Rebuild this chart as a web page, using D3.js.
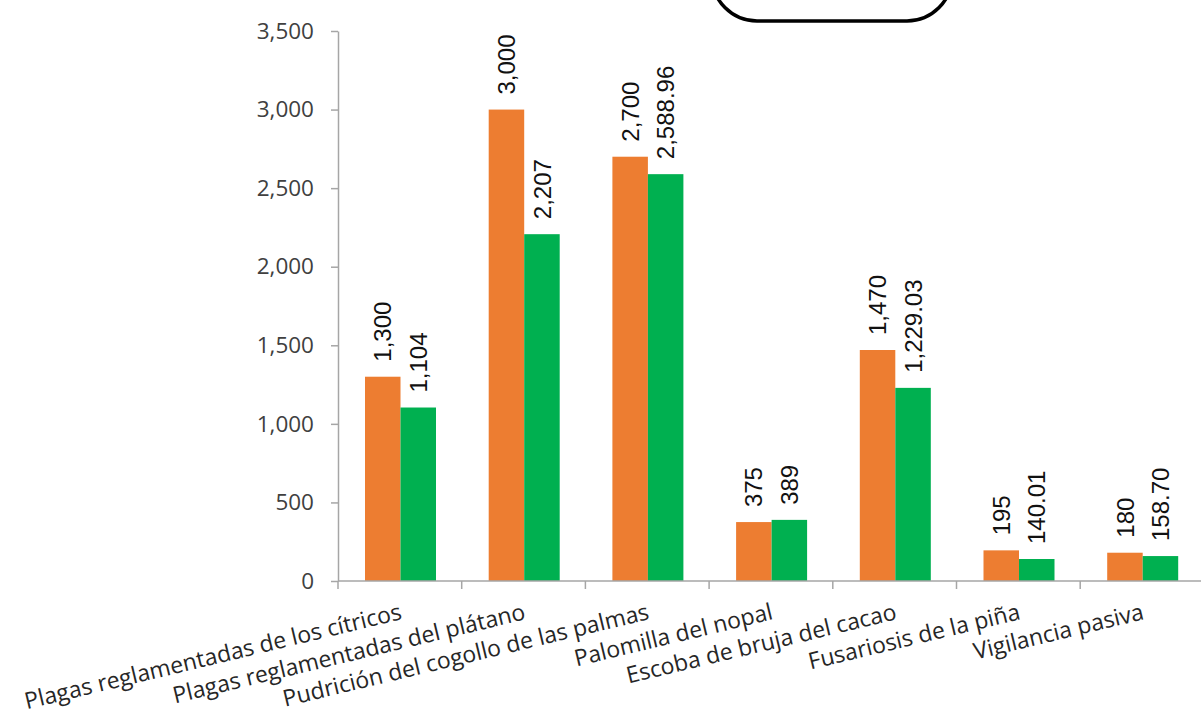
<!DOCTYPE html>
<html>
<head>
<meta charset="utf-8">
<script src="https://cdn.jsdelivr.net/npm/d3@7"></script>
<style>
  body { margin: 0; background: #fff; }
  svg { display: block; }
</style>
</head>
<body>
<div id="chart"></div>
<script>
const width = 1201;
const height = 719;

const categories = [
    "Plagas reglamentadas de los cítricos",
    "Plagas reglamentadas del plátano",
    "Pudrición del cogollo de las palmas",
    "Palomilla del nopal",
    "Escoba de bruja del cacao",
    "Fusariosis de la piña",
    "Vigilancia pasiva"
];
const orangeValues = [1300, 3000, 2700, 375, 1470, 195, 180];
const greenValues = [1104, 2207, 2588.96, 389, 1229.03, 140.01, 158.70];
const orangeLabels = ["1,300", "3,000", "2,700", "375", "1,470", "195", "180"];
const greenLabels = ["1,104", "2,207", "2,588.96", "389", "1,229.03", "140.01", "158.70"];
const yTicks = [0, 500, 1000, 1500, 2000, 2500, 3000, 3500];

const orange = "#ED7D31";
const green = "#00B050";
const axisColor = "#A6A6A6";

const svg = d3.select("#chart")
    .append("svg")
    .attr("width", width)
    .attr("height", height);

// the box at the top is cut off by the picture edge
svg.append("rect")
    .attr("x", 712)
    .attr("y", -100)
    .attr("width", 240)
    .attr("height", 121)
    .attr("rx", 45)
    .attr("fill", "#fff")
    .attr("stroke", "#000")
    .attr("stroke-width", 3.5);

const x = d3.scaleBand()
    .domain(categories)
    .range([338, 338 + 7 * 123.7])
    .padding(0);

const xInner = d3.scaleBand()
    .domain(["o", "g"])
    .range([27, 27 + 71]);

const y = d3.scaleLinear()
    .domain([0, 3500])
    .range([581, 31]);

// y axis
const yAxis = svg.append("g")
    .attr("transform", "translate(338,0)")
    .call(d3.axisLeft(y)
        .tickValues(yTicks)
        .tickFormat(d3.format(","))
        .tickSize(7)
        .tickSizeOuter(0)
        .tickPadding(17));

yAxis.select(".domain").attr("stroke", axisColor).attr("stroke-width", 1.5);
yAxis.selectAll(".tick line").attr("stroke", axisColor).attr("stroke-width", 1.5);
yAxis.selectAll(".tick text")
    .attr("fill", "#404040")
    .style("font-family", "'Open Sans', sans-serif")
    .style("font-size", "22.5px");

// bars
const groups = svg.selectAll("g.cat")
    .data(categories)
    .enter()
    .append("g")
    .attr("class", "cat")
    .attr("transform", (d) => `translate(${x(d)},0)`);

groups.append("rect")
    .attr("x", xInner("o"))
    .attr("width", xInner.bandwidth())
    .attr("y", (d, i) => y(orangeValues[i]))
    .attr("height", (d, i) => y(0) - y(orangeValues[i]))
    .attr("fill", orange);

groups.append("rect")
    .attr("x", xInner("g"))
    .attr("width", xInner.bandwidth())
    .attr("y", (d, i) => y(greenValues[i]))
    .attr("height", (d, i) => y(0) - y(greenValues[i]))
    .attr("fill", green);

// value labels, turned upright
function addValueLabels(key, values, labels) {
    groups.append("text")
        .attr("transform", (d, i) => {
            const cx = xInner(key) + xInner.bandwidth() / 2;
            return `translate(${cx},${y(values[i]) - 15}) rotate(-90)`;
        })
        .attr("dy", "0.36em")
        .attr("text-anchor", "start")
        .attr("fill", "#111")
        .style("font-family", "'Liberation Sans', Arial, sans-serif")
        .style("font-size", "24px")
        .text((d, i) => labels[i]);
}
addValueLabels("o", orangeValues, orangeLabels);
addValueLabels("g", greenValues, greenLabels);

// x axis
svg.append("line")
    .attr("x1", 338)
    .attr("x2", x.range()[1])
    .attr("y1", y(0))
    .attr("y2", y(0))
    .attr("stroke", axisColor)
    .attr("stroke-width", 1.5);

svg.selectAll("line.xtick")
    .data(categories)
    .enter()
    .append("line")
    .attr("class", "xtick")
    .attr("x1", (d) => x(d))
    .attr("x2", (d) => x(d))
    .attr("y1", y(0))
    .attr("y2", y(0) + 8)
    .attr("stroke", axisColor)
    .attr("stroke-width", 1.5);

svg.selectAll("text.xlabel")
    .data(categories)
    .enter()
    .append("text")
    .attr("class", "xlabel")
    .attr("transform", (d) => `translate(${x(d) + x.bandwidth() / 2 + 3},${y(0) + 38}) rotate(-13.5)`)
    .attr("text-anchor", "end")
    .attr("fill", "#262626")
    .style("font-family", "'Open Sans', sans-serif")
    .style("font-size", "23px")
    .text((d) => d);
</script>
</body>
</html>
